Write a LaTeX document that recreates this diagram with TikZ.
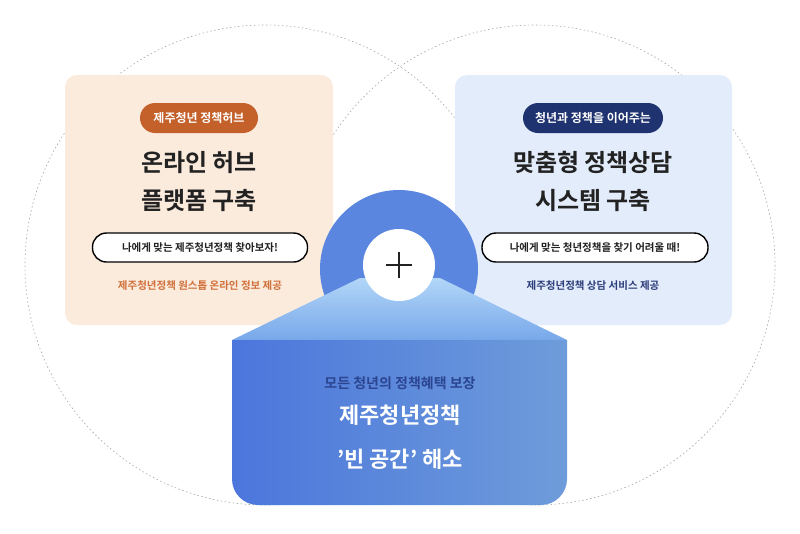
\documentclass[tikz,border=0pt]{standalone}
\usepackage{fontspec}
\setmainfont{Noto Sans CJK KR}[BoldFont={Noto Sans CJK KR Bold}]
\usetikzlibrary{shapes.geometric}
\definecolor{peach}{HTML}{FBEBDD}
\definecolor{pale}{HTML}{E3ECFB}
\definecolor{rust}{HTML}{C4602A}
\definecolor{navy}{HTML}{1F3370}
\definecolor{otxt}{HTML}{D0703A}
\definecolor{btxt}{HTML}{2C3E7A}
\definecolor{midb}{HTML}{5B86DF}
\definecolor{dark}{HTML}{222222}
\tikzset{
 card/.style={rounded corners=12pt,draw=none},
 badge/.style={rounded corners=15pt,minimum height=30pt,text=white,font=\fontsize{12}{14}\selectfont\bfseries,inner xsep=12pt},
 ttl/.style={text=dark,font=\fontsize{24}{38}\selectfont\bfseries,align=center},
 pill/.style={draw=black,line width=1.4pt,fill=white,rounded corners=14pt,minimum height=29pt,font=\fontsize{10.5}{12}\selectfont\bfseries,text=dark},
 sub/.style={font=\fontsize{10.5}{12}\selectfont\bfseries},
 dcirc/.style={draw=gray!70,dash pattern=on 1.5pt off 2.5pt,line width=0.6pt}
}
\begin{document}
\begin{tikzpicture}[x=1pt,y=-1pt]
\useasboundingbox (0,0) rectangle (800,533);
\draw[dcirc] (265,265) circle (240);
\draw[dcirc] (535,265) circle (240);
\fill[peach,card] (65,75) rectangle (333,325);
\fill[pale,card] (455,75) rectangle (732,325);
\node[badge,fill=rust,minimum width=118pt] (b1) at (199,118) {제주청년 정책허브};
\node[badge,fill=navy,minimum width=140pt] (b2) at (593,118) {청년과 정책을 이어주는};
\node[ttl] (t1) at (199,181) {온라인 허브\\플랫폼 구축};
\node[ttl] (t2) at (593,181) {맞춤형 정책상담\\시스템 구축};
\node[pill,minimum width=215pt] (p1) at (200,247.5) {나에게 맞는 제주청년정책 찾아보자!};
\node[pill,minimum width=226pt] (p2) at (595,247.5) {나에게 맞는 청년정책을 찾기 어려울 때!};
\node[sub,text=otxt] (s1) at (200,286) {제주청년정책 원스톱 온라인 정보 제공};
\node[sub,text=btxt] (s2) at (593,286) {제주청년정책 상담 서비스 제공};
\fill[midb] (399,269) circle (79);
\shade[top color={rgb,255:red,178;green,214;blue,248},bottom color={rgb,255:red,120;green,168;blue,234}] (360,278) -- (440,278) -- (567,340) -- (232,340) -- cycle;
\shade[left color={rgb,255:red,76;green,118;blue,220},right color={rgb,255:red,110;green,156;blue,218},rounded corners=26pt] (232,340) [sharp corners]-- (567,340) [rounded corners=26pt]-- (567,505) -- (232,505) [sharp corners]-- (232,340);
\node[circle,fill=white,minimum size=72pt,inner sep=0] (c) at (399,265) {};
\draw[line width=1.6pt,dark] (386,265) -- (412,265) (399,252) -- (399,278);
\node[font=\fontsize{14}{16}\selectfont\bfseries,text={rgb,255:red,43;green,69;blue,144}] (m1) at (400,383) {모든 청년의 정책혜택 보장};
\node[font=\fontsize{22}{44}\selectfont\bfseries,text=white,align=center] (m2) at (400,437) {제주청년정책\\'빈 공간' 해소};
\end{tikzpicture}
\end{document}
